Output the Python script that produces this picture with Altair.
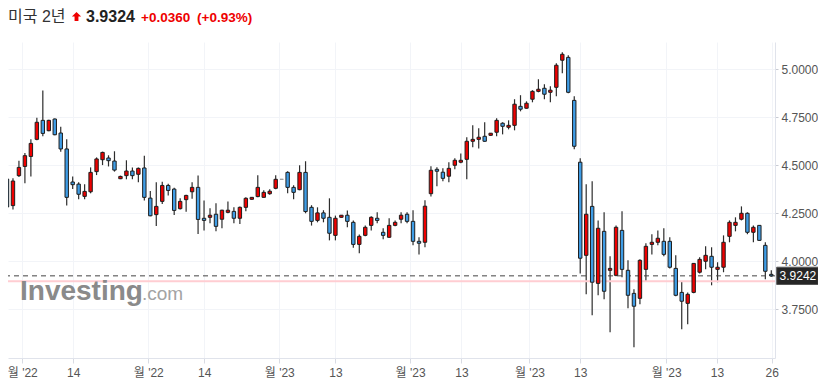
import json
import numpy as np
import pandas as pd
import altair as alt

# ---- data ----
opens = [4.428, 4.290, 4.446, 4.494, 4.546, 4.635, 4.734, 4.680, 4.741, 4.668,
         4.585, 4.413, 4.402, 4.338, 4.362, 4.467, 4.529, 4.538, 4.522, 4.430,
         4.446, 4.470, 4.453, 4.486, 4.329, 4.243, 4.312, 4.395, 4.376, 4.274,
         4.321, 4.362, 4.385, 4.224, 4.229, 4.245, 4.219, 4.255, 4.260, 4.224,
         4.281, 4.323, 4.337, 4.333, 4.352, 4.380, 4.427, 4.463, 4.385, 4.373,
         4.463, 4.281, 4.213, 4.252, 4.229, 4.135, 4.229, 4.240, 4.203, 4.088,
         4.135, 4.187, 4.224, 4.151, 4.125, 4.187, 4.219, 4.245, 4.208, 4.104,
         4.099, 4.352, 4.479, 4.464, 4.443, 4.500, 4.516, 4.531, 4.625, 4.635,
         4.651, 4.656, 4.672, 4.719, 4.698, 4.708, 4.807, 4.797, 4.844, 4.885,
         4.901, 4.880, 4.906, 5.047, 5.062, 4.838, 4.516, 4.031, 4.286, 3.885,
         4.156, 3.953, 3.927, 4.161, 3.953, 3.833, 3.807, 3.958, 4.088, 4.099,
         4.104, 4.104, 3.963, 3.838, 3.781, 3.838, 3.943, 4.000, 4.026, 3.958,
         3.969, 4.130, 4.187, 4.219, 4.250, 4.151, 4.187, 4.083, 3.932]
highs = [4.463, 4.432, 4.524, 4.564, 4.635, 4.748, 4.890, 4.737, 4.744, 4.701,
         4.635, 4.442, 4.411, 4.401, 4.489, 4.541, 4.571, 4.552, 4.573, 4.446,
         4.526, 4.489, 4.489, 4.550, 4.366, 4.411, 4.414, 4.404, 4.383, 4.328,
         4.347, 4.411, 4.447, 4.316, 4.276, 4.302, 4.269, 4.312, 4.281, 4.286,
         4.333, 4.335, 4.448, 4.370, 4.375, 4.448, 4.427, 4.469, 4.396, 4.500,
         4.521, 4.292, 4.281, 4.266, 4.328, 4.238, 4.241, 4.264, 4.213, 4.140,
         4.187, 4.234, 4.255, 4.172, 4.224, 4.213, 4.255, 4.255, 4.266, 4.125,
         4.318, 4.495, 4.490, 4.484, 4.516, 4.536, 4.562, 4.646, 4.708, 4.693,
         4.724, 4.668, 4.745, 4.724, 4.734, 4.844, 4.865, 4.833, 4.891, 4.948,
         4.922, 4.911, 5.031, 5.088, 5.073, 4.859, 4.536, 4.401, 4.417, 4.213,
         4.255, 4.026, 4.187, 4.260, 4.005, 3.854, 4.010, 4.094, 4.141, 4.161,
         4.172, 4.125, 4.031, 3.896, 3.838, 3.991, 4.021, 4.078, 4.073, 3.995,
         4.135, 4.213, 4.229, 4.286, 4.255, 4.187, 4.189, 4.099, 3.953]
lows = [4.270, 4.270, 4.439, 4.406, 4.442, 4.631, 4.651, 4.677, 4.656, 4.571,
        4.291, 4.376, 4.323, 4.323, 4.354, 4.449, 4.501, 4.494, 4.467, 4.428,
        4.427, 4.427, 4.411, 4.317, 4.234, 4.184, 4.298, 4.343, 4.241, 4.270,
        4.258, 4.326, 4.142, 4.161, 4.198, 4.156, 4.172, 4.250, 4.198, 4.194,
        4.260, 4.321, 4.333, 4.332, 4.346, 4.375, 4.427, 4.354, 4.323, 4.370,
        4.250, 4.186, 4.203, 4.203, 4.109, 4.109, 4.227, 4.177, 4.071, 4.042,
        4.130, 4.161, 4.198, 4.115, 4.123, 4.182, 4.198, 4.198, 4.083, 4.036,
        4.073, 4.337, 4.391, 4.417, 4.411, 4.479, 4.510, 4.427, 4.594, 4.588,
        4.623, 4.654, 4.651, 4.661, 4.687, 4.682, 4.781, 4.795, 4.828, 4.880,
        4.844, 4.828, 4.859, 4.979, 4.875, 4.583, 3.937, 3.828, 3.719, 3.823,
        3.802, 3.630, 3.922, 3.917, 3.755, 3.552, 3.776, 3.896, 4.036, 4.083,
        4.026, 3.963, 3.818, 3.646, 3.672, 3.833, 3.937, 3.958, 3.875, 3.891,
        3.943, 4.099, 4.156, 4.213, 4.141, 4.099, 4.107, 3.906, 3.920]
closes = [4.283, 4.418, 4.489, 4.550, 4.614, 4.724, 4.666, 4.734, 4.659, 4.585,
          4.333, 4.399, 4.349, 4.364, 4.463, 4.533, 4.567, 4.524, 4.475, 4.442,
          4.470, 4.446, 4.484, 4.333, 4.237, 4.286, 4.395, 4.369, 4.265, 4.312,
          4.343, 4.385, 4.218, 4.213, 4.240, 4.182, 4.266, 4.266, 4.224, 4.281,
          4.328, 4.333, 4.385, 4.359, 4.365, 4.427, 4.427, 4.385, 4.359, 4.463,
          4.259, 4.208, 4.252, 4.224, 4.146, 4.224, 4.240, 4.208, 4.088, 4.130,
          4.177, 4.229, 4.213, 4.135, 4.187, 4.203, 4.240, 4.208, 4.104, 4.094,
          4.287, 4.474, 4.469, 4.432, 4.484, 4.526, 4.526, 4.625, 4.635, 4.646,
          4.625, 4.667, 4.734, 4.703, 4.708, 4.818, 4.792, 4.823, 4.885, 4.896,
          4.870, 4.891, 5.021, 5.078, 4.880, 4.599, 4.016, 4.245, 3.891, 4.172,
          3.844, 3.963, 4.177, 3.958, 3.823, 3.766, 4.005, 4.078, 4.099, 4.120,
          4.036, 3.969, 3.823, 3.792, 3.828, 3.989, 4.010, 4.031, 3.969, 3.969,
          4.099, 4.203, 4.203, 4.250, 4.151, 4.177, 4.109, 3.948, 3.924]

tick_pos = [2.56, 11.1, 23.66, 33.04, 45.6, 55, 67.5, 76.1, 87.5, 96, 110.4, 118.9, 128.07]
tick_labels = ["월 '22", "14", "월 '22", "14", "월 '23", "13", "월 '23", "13",
               "월 '23", "13", "월 '23", "13", "26"]
y_ticks = [3.75, 4.0, 4.25, 4.5, 4.75, 5.0]

title_name = "미국 2년"
last_price = "3.9324"
change = "+0.0360"
change_pct = "(+0.93%)"
marker_price = 3.9242
prev_close = 3.8964
brand = "Investing"
brand_suffix = ".com"

# ---- build table ----
n = len(closes)
df = pd.DataFrame({"i": np.arange(n), "open": opens, "high": highs,
                   "low": lows, "close": closes})
df["dir"] = np.where(df["close"] > df["open"], "up",
                     np.where(df["close"] < df["open"], "down", "flat"))

RED = "#ee0000"
BLUE = "#3f9de6"
FONT = "Liberation Sans, Noto Sans CJK KR, sans-serif"

x_scale = alt.Scale(domain=[0.1675, 128.62], nice=False, zero=False, padding=0)
y_scale = alt.Scale(domain=[3.4964, 5.142], nice=False, zero=False, padding=0)

label_expr = "%s[indexof(%s, datum.value)]" % (
    json.dumps(tick_labels, ensure_ascii=False), json.dumps(tick_pos))

x_axis = alt.Axis(values=tick_pos, labelExpr=label_expr, title=None, grid=True,
                  gridColor="#f2f4f8", domainColor="#e0e3eb", tickColor="#d8dbe3",
                  tickSize=5, labelColor="#555555", labelFontSize=12, labelFont=FONT,
                  labelPadding=4, labelFlush=False, labelOverlap=False)
y_axis = alt.Axis(values=y_ticks, format=".4f", orient="right", title=None, grid=True,
                  gridColor="#f2f4f8", domainColor="#e0e3eb", tickColor="#c8cbd3",
                  tickSize=3, labelColor="#555555", labelFontSize=12, labelFont=FONT,
                  labelPadding=3)

base = alt.Chart(df)

wick = base.mark_rule(color="#2d2d2d", strokeWidth=1.2).encode(
    x=alt.X("i:Q", scale=x_scale, axis=x_axis),
    y=alt.Y("low:Q", scale=y_scale, axis=y_axis),
    y2="high:Q",
)

body = base.mark_bar(width=3.4, strokeWidth=1).encode(
    x="i:Q",
    y="open:Q",
    y2="close:Q",
    fill=alt.Fill("dir:N", scale=alt.Scale(domain=["up", "down", "flat"],
                                           range=[RED, BLUE, "#9a9a9a"]), legend=None),
    stroke=alt.Stroke("dir:N", scale=alt.Scale(domain=["up", "down", "flat"],
                                               range=["#1e1e1e", "#1e1e1e", "#9a9a9a"]),
                      legend=None),
)

one = pd.DataFrame({"k": [0]})
prev_line = alt.Chart(one).mark_rule(color="#ffcdd2", strokeWidth=2).encode(
    y=alt.datum(prev_close))
last_line = alt.Chart(one).mark_rule(color="#444444", strokeWidth=1,
                                     strokeDash=[5, 4]).encode(y=alt.datum(marker_price))

wm1 = alt.Chart(pd.DataFrame({"t": [brand]})).mark_text(
    align="left", baseline="alphabetic", fontSize=28, fontWeight="bold",
    font=FONT, color="#8a8a8a").encode(text="t:N", x=alt.value(12), y=alt.value(258))
wm2 = alt.Chart(pd.DataFrame({"t": [brand_suffix]})).mark_text(
    align="left", baseline="alphabetic", fontSize=19, font=FONT,
    color="#a3a3a3").encode(text="t:N", x=alt.value(134), y=alt.value(258))

box = alt.Chart(one).mark_rect(color="#262626", stroke="#555555", strokeWidth=1).encode(
    x=alt.value(768.7), x2=alt.value(810.3),
    y=alt.datum(marker_price + 0.045), y2=alt.datum(marker_price - 0.045))
box_text = alt.Chart(pd.DataFrame({"t": ["%.4f" % marker_price]})).mark_text(
    align="center", baseline="middle", fontSize=12, font=FONT, color="white").encode(
    text="t:N", x=alt.value(789.9), y=alt.datum(marker_price))

t1 = alt.Chart(pd.DataFrame({"t": [title_name]})).mark_text(
    align="left", baseline="alphabetic", fontSize=16, font=FONT, color="#333333").encode(
    text="t:N", x=alt.value(0), y=alt.value(-20))
arrow = alt.Chart(one).mark_point(
    shape="M0,-1L1,0L0.42,0L0.42,1L-0.42,1L-0.42,0L-1,0Z", filled=True,
    color=RED, opacity=1, size=85).encode(x=alt.value(68.5), y=alt.value(-25.5))
t2 = alt.Chart(pd.DataFrame({"t": [last_price]})).mark_text(
    align="left", baseline="alphabetic", fontSize=16, fontWeight="bold", font=FONT,
    color="#222222").encode(text="t:N", x=alt.value(78), y=alt.value(-20))
t3 = alt.Chart(pd.DataFrame({"t": [change]})).mark_text(
    align="left", baseline="alphabetic", fontSize=13.5, fontWeight="bold", font=FONT,
    color=RED).encode(text="t:N", x=alt.value(133), y=alt.value(-20.5))
t4 = alt.Chart(pd.DataFrame({"t": [change_pct]})).mark_text(
    align="left", baseline="alphabetic", fontSize=13.5, fontWeight="bold", font=FONT,
    color=RED).encode(text="t:N", x=alt.value(189), y=alt.value(-20.5))

chart = alt.layer(
    wick, prev_line, last_line, wm1, wm2, body, box, box_text, t1, arrow, t2, t3, t4
).properties(
    width=767, height=316,
    autosize=alt.AutoSizeParams(type="none"),
    padding={"left": 0, "top": 34, "right": 43, "bottom": 23},
).configure_view(stroke=None)

chart.save("out.html", embed_options={"renderer": "svg", "actions": False})
